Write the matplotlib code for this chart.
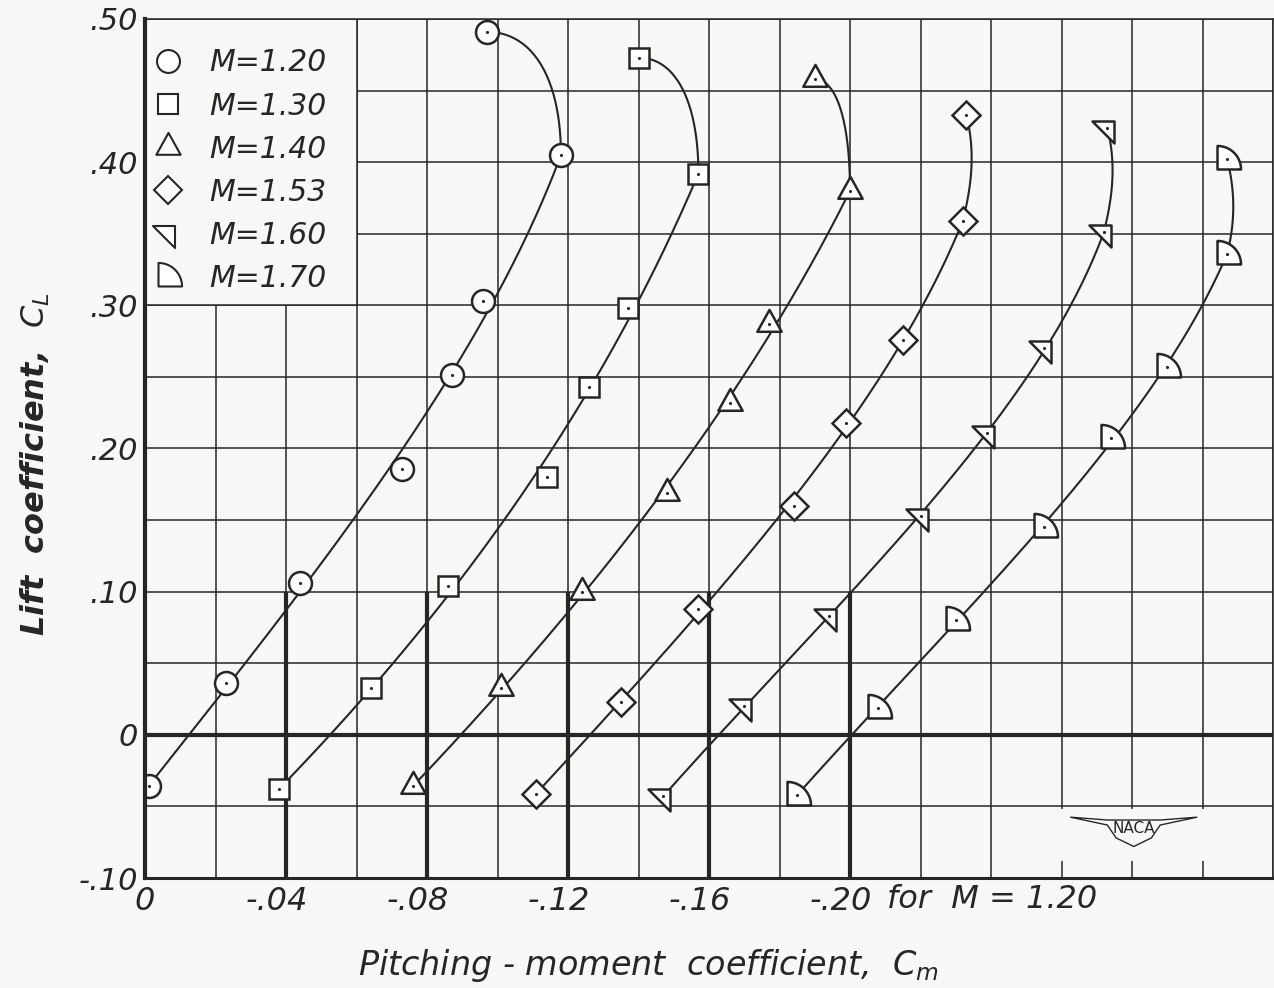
import numpy as np
import matplotlib
import matplotlib.pyplot as plt
from matplotlib.path import Path
from matplotlib.lines import Line2D
from matplotlib.patches import Rectangle, Polygon
import matplotlib.transforms as mtransforms

matplotlib.use("Agg")

# Mach numbers and the Cm origin shift used for each curve
mach_labels = ["M=1.20", "M=1.30", "M=1.40", "M=1.53", "M=1.60", "M=1.70"]
cm_shift = [0.0, -0.04, -0.08, -0.12, -0.16, -0.20]

# lift coefficient and pitching-moment coefficient (own origin) for each Mach number
cl_120 = [-0.036, 0.036, 0.106, 0.186, 0.251, 0.303, 0.405, 0.491]
cm_120 = [-0.001, -0.023, -0.044, -0.073, -0.087, -0.096, -0.118, -0.097]
cl_130 = [-0.038, 0.033, 0.104, 0.180, 0.243, 0.298, 0.392, 0.473]
cm_130 = [0.002, -0.024, -0.046, -0.074, -0.086, -0.097, -0.117, -0.100]
cl_140 = [-0.036, 0.033, 0.100, 0.169, 0.232, 0.287, 0.380, 0.458]
cm_140 = [0.004, -0.021, -0.044, -0.068, -0.086, -0.097, -0.120, -0.110]
cl_153 = [-0.041, 0.023, 0.088, 0.160, 0.218, 0.276, 0.359, 0.433]
cm_153 = [0.009, -0.015, -0.037, -0.064, -0.079, -0.095, -0.112, -0.113]
cl_160 = [-0.043, 0.020, 0.083, 0.153, 0.211, 0.270, 0.351, 0.424]
cm_160 = [0.013, -0.010, -0.034, -0.060, -0.079, -0.095, -0.112, -0.113]
cl_170 = [-0.042, 0.019, 0.080, 0.145, 0.207, 0.257, 0.336, 0.402]
cm_170 = [0.015, -0.008, -0.030, -0.055, -0.074, -0.090, -0.107, -0.107]

cl_all = [cl_120, cl_130, cl_140, cl_153, cl_160, cl_170]
cm_all = [cm_120, cm_130, cm_140, cm_153, cm_160, cm_170]

ytick_vals = [-0.10, 0.0, 0.10, 0.20, 0.30, 0.40, 0.50]
ytick_text = ["-.10", "0", ".10", ".20", ".30", ".40", ".50"]
xtick_vals = [0.0, -0.04, -0.08, -0.12, -0.16, -0.20]
xtick_text = ["0", "-.04", "-.08", "-.12", "-.16", "-.20"]

INK = "#262626"
PAPER = "#f8f8f6"


def closed_path(verts):
    verts = list(verts) + [verts[0]]
    return Path(verts, [Path.MOVETO] + [Path.LINETO] * (len(verts) - 2) + [Path.CLOSEPOLY])


# marker shapes, each with its centroid on the data point
tri_up = closed_path([(0, 1.2), (-1, -0.6), (1, -0.6)])
tri_flag = closed_path([(-4 / 3, 2 / 3), (2 / 3, 2 / 3), (2 / 3, -4 / 3)])
arc = np.linspace(np.pi / 2, 0, 24)
quarter = closed_path([(-1.0 + 0.151, -1.0 + 0.151)]
                      + [(-1 + 2 * np.cos(a) + 0.151, -1 + 2 * np.sin(a) + 0.151) for a in arc])
markers = ["o", "s", tri_up, "D", tri_flag, quarter]
msizes = [16.5, 15, 21, 14, 21, 19.5]


def faired_curve(cl, cm):
    """Smooth lower run plus a rounded hook to the last (highest) point."""
    cl = np.asarray(cl)
    cm = np.asarray(cm)
    w = np.ones(len(cl) - 1)
    w[0], w[-1] = 3, 10
    coef = np.polyfit(cl[:-1], cm[:-1], 3, w=w)
    lo = np.linspace(cl[0], cl[-2], 200)
    x_lo = np.polyval(coef, lo)
    # hook in grid units so the rounding looks right on paper
    p0 = np.array([x_lo[-1] / 0.02, cl[-2] / 0.05])
    p3 = np.array([cm[-1] / 0.02, cl[-1] / 0.05])
    span = np.hypot(*(p3 - p0))
    corner = np.array([p0[0], p3[1]])
    if np.hypot(*(corner - p3)) > 0.2 * span:
        p1 = p0 + 0.62 * (corner - p0)
        p2 = p3 + 0.62 * (corner - p3)
    else:
        # nearly upright hook: a gentle swell to the right
        p1 = p0 + 0.35 * span * np.array([-0.25, 0.97])
        p2 = p3 + 0.35 * span * np.array([-0.25, -0.97])
    s = np.linspace(0, 1, 80)[:, None]
    bez = (1 - s) ** 3 * p0 + 3 * (1 - s) ** 2 * s * p1 + 3 * (1 - s) * s ** 2 * p2 + s ** 3 * p3
    xs = np.concatenate([x_lo, bez[:, 0] * 0.02])
    ys = np.concatenate([lo, bez[:, 1] * 0.05])
    return xs, ys


plt.rcParams["font.family"] = "DejaVu Sans"
plt.rcParams["mathtext.default"] = "it"
fig = plt.figure(figsize=(12.74, 9.88), dpi=100, facecolor=PAPER)
ax = fig.add_axes([145 / 1274, 110 / 988, 1128 / 1274, 859 / 988])
ax.set_facecolor(PAPER)
ax.set_xlim(0, -0.32)
ax.set_ylim(-0.10, 0.50)

# grid
ax.vlines(np.arange(0, -0.321, -0.02), -0.10, 0.50, color=INK, lw=1.1, zorder=1)
ax.hlines(np.arange(-0.10, 0.501, 0.05), 0, -0.32, color=INK, lw=1.1, zorder=1)

# shifted origins
ax.axhline(0, color=INK, lw=3.0, zorder=2)
ax.vlines(cm_shift[1:], -0.10, 0.10, color=INK, lw=3.0, zorder=2)

for cl, cm, sh, mk, ms in zip(cl_all, cm_all, cm_shift, markers, msizes):
    x = np.array(cm) + sh
    y = np.array(cl)
    xs, ys = faired_curve(y, x)
    ax.plot(xs, ys, color=INK, lw=1.5, zorder=3)
    ax.plot(x, y, ls="none", marker=mk, ms=ms, mfc="white", mec=INK, mew=1.8, zorder=4)
    ax.plot(x, y, ls="none", marker=".", ms=2.5, color=INK, zorder=5)

# legend box
ax.add_patch(Rectangle((0, 0.30), -0.06, 0.20, facecolor=PAPER, edgecolor=INK, lw=1.1, zorder=6))
handles = [Line2D([], [], ls="none", marker=mk, ms=ms, mfc="white", mec=INK, mew=1.5)
           for mk, ms in zip(markers, msizes)]
leg = ax.legend(handles, mach_labels, loc="upper left", bbox_to_anchor=(-0.011, 0.99),
                frameon=False, prop={"size": 21.5, "style": "italic"}, labelspacing=0.47,
                handlelength=1.0, handletextpad=0.85, borderaxespad=0.3)
leg.set_zorder(7)
for txt in leg.get_texts():
    txt.set_color(INK)

# NACA mark
ax.add_patch(Rectangle((-0.255, -0.088), -0.05, 0.036, facecolor=PAPER, edgecolor="none", zorder=2))
ax.text(-0.2805, -0.0655, "NACA", fontsize=11, ha="center", va="center", color=INK, zorder=3)
wing = [(-0.2625, -0.0575), (-0.273, -0.063), (-0.2755, -0.072), (-0.2805, -0.078),
        (-0.2855, -0.072), (-0.288, -0.063), (-0.2985, -0.0575), (-0.288, -0.0595),
        (-0.2805, -0.0595), (-0.273, -0.0595)]
ax.add_patch(Polygon(wing, closed=True, fill=False, edgecolor=INK, lw=1.0, zorder=3))

# axes frame
for side, w in [("left", 3.0), ("bottom", 2.2), ("top", 1.1), ("right", 1.1)]:
    ax.spines[side].set_linewidth(w)
    ax.spines[side].set_color(INK)
    ax.spines[side].set_zorder(8)

ax.set_yticks(ytick_vals, ytick_text)
ax.set_xticks(xtick_vals, xtick_text)
ax.tick_params(length=0, colors=INK)
ax.tick_params(axis="x", labelsize=23, pad=6)
ax.tick_params(axis="y", labelsize=22, pad=5)
nudge = mtransforms.ScaledTranslation(-9 / 100, 0, fig.dpi_scale_trans)
for lab in ax.get_xticklabels() + ax.get_yticklabels():
    lab.set_style("italic")
for lab in ax.get_xticklabels()[1:]:
    lab.set_transform(lab.get_transform() + nudge)

trans = mtransforms.blended_transform_factory(ax.transData, ax.transAxes)
ax.text(-0.2105, -0.007, "for  M = 1.20", transform=trans, fontsize=23, style="italic",
        ha="left", va="top", color=INK)

fig.text(649 / 1274, 1 - 965 / 988, "Pitching - moment  coefficient,  $C_m$", fontsize=24,
         style="italic", color=INK, ha="center", va="center")
fig.text(35 / 1274, 1 - 464 / 988, "Lift  coefficient,  $C_L$", fontsize=23, style="italic",
         weight="bold", color=INK, ha="center", va="center", rotation=90)

fig.savefig("out.png", dpi=100, facecolor=PAPER)
plt.close(fig)
